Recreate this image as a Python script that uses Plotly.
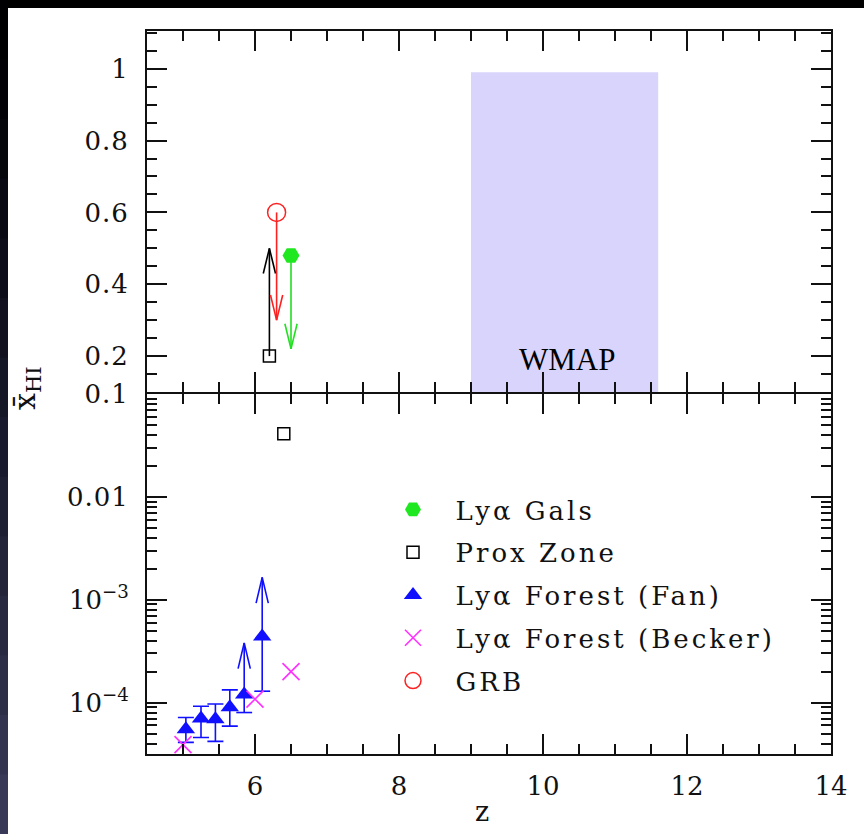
import numpy as np
import plotly.graph_objects as go

# ---------------- data ----------------
# top panel (linear x_HI)
gals_z = [6.5]
gals_x = [0.48]
gals_to = [0.22]            # upper limit arrow tip
prox_top_z = [6.2]
prox_top_x = [0.20]
prox_top_to = [0.50]        # lower limit arrow tip
grb_z = [6.3]
grb_x = [0.60]
grb_to = [0.30]             # upper limit arrow tip
wmap_z = [9.0, 11.6]
wmap_x = [0.1, 0.99]

# bottom panel (log x_HI)
prox_bot_z = [6.4]
prox_bot_x = [0.041]
fan_z = [5.04, 5.25, 5.45, 5.65, 5.85, 6.10]
fan_x = [5.5e-5, 7.0e-5, 6.9e-5, 9.0e-5, 1.2e-4, 4.4e-4]
fan_hi = [7.15e-5, 9.2e-5, 9.7e-5, 1.33e-4, None, None]
fan_lo = [4.1e-5, 4.57e-5, 4.2e-5, 5.9e-5, 8.0e-5, 1.29e-4]
fan_to = [None, None, None, None, 3.8e-4, 1.65e-3]
becker_z = [5.0, 6.0, 6.5]
becker_x = [3.9e-5, 1.08e-4, 2.0e-4]

# ---------------- geometry ----------------
W, H = 864, 834
L, R, T, B = 147, 33, 31, 80
PW, PH = W - L - R, H - T - B
SPLIT = 0.4993

FONT = "DejaVu Serif"
INK = "#111111"

def px2paper_x(px):
    return (px - L) / PW

def px2paper_y(py):
    return (H - B - py) / PH

def sp(text, ls):
    return '<span style="letter-spacing:%gpx">%s</span>' % (ls, text)

def arrow(z, y0, y1, dz, dy, log=False):
    """shaft from y0 to y1 with an open V head at y1"""
    if log:
        s = 1 if np.log10(y1) > np.log10(y0) else -1
        ya = 10 ** (np.log10(y1) - s * dy)
    else:
        s = 1 if y1 > y0 else -1
        ya = y1 - s * dy
    xs = [z, z, None, z - dz, z, z + dz]
    ys = [y0, y1, None, ya, y1, ya]
    return xs, ys

fig = go.Figure()

# WMAP band
fig.add_shape(type="rect", xref="x2", yref="y2", x0=wmap_z[0], x1=wmap_z[1],
              y0=wmap_x[0], y1=wmap_x[1], fillcolor="#d8d4fc", line_width=0, layer="below")

# ---- arrows in top panel ----
for z, y0, y1, col in [(prox_top_z[0], prox_top_x[0], prox_top_to[0], "black"),
                       (grb_z[0], grb_x[0], grb_to[0], "#ff2020"),
                       (gals_z[0], gals_x[0], gals_to[0], "#20e020")]:
    xs, ys = arrow(z, y0, y1, 0.085, 0.07)
    fig.add_trace(go.Scatter(x=xs, y=ys, mode="lines", line=dict(color=col, width=1.6),
                             xaxis="x2", yaxis="y2", showlegend=False, hoverinfo="skip"))

# ---- Fan lower limits with arrows (bottom) ----
lim_x, lim_y = [], []
for z, v, lo, to in zip(fan_z, fan_x, fan_lo, fan_to):
    if to is None:
        continue
    xs, ys = arrow(z, lo, to, 0.085, 0.25, log=True)
    lim_x += xs + [None, z - 0.11, z + 0.11, None]
    lim_y += ys + [None, lo, lo, None]
fig.add_trace(go.Scatter(x=lim_x, y=lim_y, mode="lines", line=dict(color="#1010ff", width=1.6),
                         xaxis="x", yaxis="y", showlegend=False, hoverinfo="skip"))

# Fan points with two-sided error bars
eb_z = [z for z, h in zip(fan_z, fan_hi) if h is not None]
eb_v = [v for v, h in zip(fan_x, fan_hi) if h is not None]
eb_hi = [h - v for v, h in zip(fan_x, fan_hi) if h is not None]
eb_lo = [v - l for v, l, h in zip(fan_x, fan_lo, fan_hi) if h is not None]
fig.add_trace(go.Scatter(x=eb_z, y=eb_v, mode="markers", marker=dict(size=1, color="rgba(0,0,0,0)"),
                         error_y=dict(type="data", symmetric=False, array=eb_hi, arrayminus=eb_lo,
                                      color="#1010ff", thickness=1.6, width=8),
                         xaxis="x", yaxis="y", showlegend=False, hoverinfo="skip"))

# ---- markers ----
PAD = "\u00a0\u00a0"
fig.add_trace(go.Scatter(x=gals_z, y=gals_x, mode="markers", name=sp(PAD + "Ly\u03b1 Gals", 3),
                         marker=dict(symbol="hexagon2", size=17, color="#20e820"),
                         xaxis="x2", yaxis="y2", legendrank=1, legendgroup="g1"))
fig.add_trace(go.Scatter(x=prox_top_z, y=prox_top_x, mode="markers", showlegend=False,
                         marker=dict(symbol="square-open", size=12, color="black", line=dict(width=1.5)),
                         xaxis="x2", yaxis="y2"))
fig.add_trace(go.Scatter(x=prox_bot_z, y=prox_bot_x, mode="markers", name=sp(PAD + "Prox Zone", 3),
                         marker=dict(symbol="square-open", size=12, color="black", line=dict(width=1.5)),
                         xaxis="x", yaxis="y", legendrank=2, legendgroup="g2"))
fig.add_trace(go.Scatter(x=fan_z, y=fan_x, mode="markers", name=sp(PAD + "Ly\u03b1 Forest (Fan)", 3),
                         marker=dict(symbol="triangle-up", size=16, color="#1010ff"),
                         xaxis="x", yaxis="y", legendrank=3, legendgroup="g3"))
fig.add_trace(go.Scatter(x=becker_z, y=becker_x, mode="markers", name=sp(PAD + "Ly\u03b1 Forest (Becker)", 3),
                         marker=dict(symbol="x-thin-open", size=17, color="#ff30ff", line=dict(width=1.6, color="#ff30ff")),
                         xaxis="x", yaxis="y", legendrank=4, legendgroup="g4"))
fig.add_trace(go.Scatter(x=grb_z, y=grb_x, mode="markers", name=sp(PAD + "GRB", 3),
                         marker=dict(symbol="circle-open", size=18, color="#ff2020", line=dict(width=1.5)),
                         xaxis="x2", yaxis="y2", legendrank=5, legendgroup="g5"))

# ---------------- axes ----------------
tickfont = dict(family=FONT, size=26, color=INK)
base = dict(ticks="inside", tickwidth=2, tickcolor=INK, showline=True, linewidth=2, linecolor=INK,
            mirror="allticks", showgrid=False, zeroline=False, tickfont=tickfont)
minor_style = dict(ticks="inside", ticklen=10, tickwidth=2, tickcolor=INK, showgrid=False)

xa = dict(base, range=[4.5, 14], tick0=0, dtick=2, ticklen=20, ticklabelstandoff=8,
          minor=dict(minor_style, tick0=0, dtick=0.5))
g = 1.0 / PH
fig.update_layout(
    xaxis=dict(xa, anchor="y", domain=[0, 1]),
    xaxis2=dict(xa, anchor="y2", matches="x", showticklabels=False),
    yaxis=dict(base, type="log", range=[-4.5, -1], domain=[0, SPLIT - g], anchor="x",
               tickvals=[1e-1, 1e-2, 1e-3, 1e-4],
               ticktext=[sp("0.1", 1), sp("0.01", 1), "10<sup>\u2212" + "3</sup>", "10<sup>\u22124</sup>"],
               ticklen=20, ticklabelstandoff=11,
               minor=dict(minor_style, tickvals=[k * 10.0 ** e for e in range(-5, -1) for k in range(2, 10)])),
    yaxis2=dict(base, range=[0.1, 1.105], domain=[SPLIT + g, 1], anchor="x2",
                tickvals=[0.2, 0.4, 0.6, 0.8, 1.0],
                ticktext=[sp(t, 1) for t in ["0.2", "0.4", "0.6", "0.8", "1"]],
                ticklen=20, ticklabelstandoff=11,
                minor=dict(minor_style, tick0=0, dtick=0.05)),
)

# ---------------- background (slide) ----------------
fig.add_shape(type="rect", xref="paper", yref="paper",
              x0=px2paper_x(8), x1=px2paper_x(W + 2), y0=px2paper_y(H + 2), y1=px2paper_y(8),
              fillcolor="white", line_width=0, layer="below")
nb = 14
for i in range(nb):
    f = (i + 0.5) / nb
    c = (int(58 * f ** 1.3), int(60 * f ** 1.3), int(90 * f ** 1.1))
    fig.add_shape(type="rect", xref="paper", yref="paper",
                  x0=px2paper_x(-2), x1=px2paper_x(8),
                  y0=px2paper_y(H * (i + 1) / nb + 1), y1=px2paper_y(H * i / nb),
                  fillcolor="rgb(%d,%d,%d)" % c, line_width=0, layer="below")

# ---------------- text ----------------
fig.add_annotation(x=10.33, y=0.19, xref="x2", yref="y2", text="WMAP", showarrow=False,
                   font=dict(family="Liberation Serif", size=31, color="black"))
fig.add_annotation(x=px2paper_x(26), y=px2paper_y(388), xref="paper", yref="paper",
                   xanchor="center", yanchor="middle",
                   text="x\u0304<sub>HI</sub>", textangle=-90, showarrow=False,
                   font=dict(family=FONT, size=30, color=INK))
fig.add_annotation(x=px2paper_x(482), y=px2paper_y(811), xref="paper", yref="paper",
                   xanchor="center", yanchor="middle",
                   text="z", showarrow=False, font=dict(family=FONT, size=27, color=INK))

fig.update_layout(
    width=W, height=H, margin=dict(l=L, r=R, t=T, b=B, pad=0),
    paper_bgcolor="black", plot_bgcolor="white",
    showlegend=True,
    legend=dict(x=px2paper_x(393), y=px2paper_y(486), xanchor="left", yanchor="top",
                bgcolor="rgba(0,0,0,0)", borderwidth=0, traceorder="grouped",
                font=dict(family=FONT, size=26, color=INK), itemsizing="trace",
                tracegroupgap=6),
)

fig.write_html("out.html")
